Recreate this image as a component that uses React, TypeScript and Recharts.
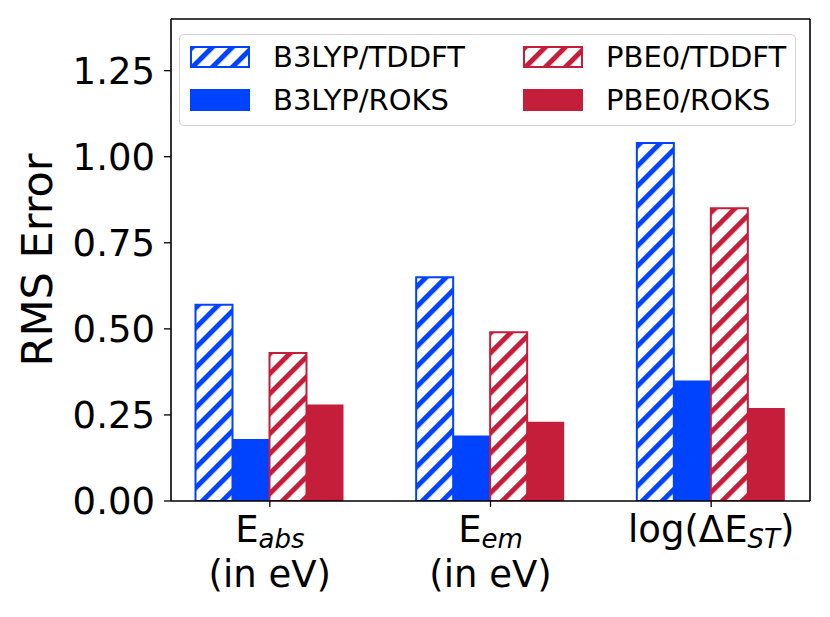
import { BarChart, Bar, XAxis, YAxis, Legend, Label } from "recharts";

const categories = ["abs", "em", "st"];
const tickMain = ["E", "E", "log(ΔE"];
const tickSub = ["abs", "em", "ST"];
const tickTail = ["", "", ")"];
const tickSecond = ["(in eV)", "(in eV)", ""];

const b3lypTddft = [0.57, 0.65, 1.04];
const b3lypRoks = [0.18, 0.19, 0.35];
const pbe0Tddft = [0.43, 0.49, 0.85];
const pbe0Roks = [0.28, 0.23, 0.27];

const yTicks = [0, 0.25, 0.5, 0.75, 1.0, 1.25];

const BLUE = "#0043ff";
const RED = "#c41e3a";
const FONT = "'DejaVu Sans', sans-serif";

const series = [
  { key: "b3lypTddft", name: "B3LYP/TDDFT", color: BLUE, hatch: true },
  { key: "b3lypRoks", name: "B3LYP/ROKS", color: BLUE, hatch: false },
  { key: "pbe0Tddft", name: "PBE0/TDDFT", color: RED, hatch: true },
  { key: "pbe0Roks", name: "PBE0/ROKS", color: RED, hatch: false },
];

const data = categories.map((c, i) => ({
  key: c,
  b3lypTddft: b3lypTddft[i],
  b3lypRoks: b3lypRoks[i],
  pbe0Tddft: pbe0Tddft[i],
  pbe0Roks: pbe0Roks[i],
}));

function HatchPattern({ id, color }: { id: string; color: string }) {
  return (
    <pattern id={id} patternUnits="userSpaceOnUse" width="14.14" height="14.14" patternTransform="rotate(45)">
      <rect width="14.14" height="14.14" fill="#fff" />
      <line x1="2.5" y1="0" x2="2.5" y2="14.14" stroke={color} strokeWidth="5" />
    </pattern>
  );
}

function XTick(props: any) {
  const { x, y, index } = props;
  return (
    <g fontFamily={FONT} fill="#000">
      <text x={x} y={y + 33} textAnchor="middle" fontSize={37}>
        <tspan>{tickMain[index]}</tspan>
        <tspan fontSize={26} fontStyle="italic" dy={6}>
          {tickSub[index]}
        </tspan>
        {tickTail[index] ? <tspan dy={-6}>{tickTail[index]}</tspan> : null}
      </text>
      {tickSecond[index] ? (
        <text x={x} y={y + 78} textAnchor="middle" fontSize={37}>
          {tickSecond[index]}
        </text>
      ) : null}
    </g>
  );
}

function LegendBox() {
  const cols = [
    [series[0], series[1]],
    [series[2], series[3]],
  ];
  return (
    <div
      style={{
        position: "relative",
        width: 617,
        height: 92,
        boxSizing: "border-box",
        border: "1.5px solid #d3d3d3",
        borderRadius: 5,
        background: "rgba(255,255,255,0.8)",
        fontFamily: FONT,
      }}
    >
      {cols.map((col, ci) =>
        col.map((s, ri) => (
          <div
            key={s.key}
            style={{
              position: "absolute",
              left: 10 + ci * 333,
              top: 11 + ri * 42.5,
              height: 22,
              display: "flex",
              alignItems: "center",
            }}
          >
            <svg width={60} height={22} style={{ display: "block" }}>
              {s.hatch ? (
                <defs>
                  <HatchPattern id={`lg-${s.key}`} color={s.color} />
                </defs>
              ) : null}
              <rect
                x={1}
                y={1}
                width={58}
                height={20}
                fill={s.hatch ? `url(#lg-${s.key})` : s.color}
                stroke={s.color}
                strokeWidth={2}
              />
            </svg>
            <span style={{ marginLeft: 23, fontSize: 29, lineHeight: "22px", color: "#000", whiteSpace: "nowrap" }}>
              {s.name}
            </span>
          </div>
        ))
      )}
    </div>
  );
}

export default function App() {
  return (
    <div style={{ position: "absolute", left: 0, top: 0, width: 830, height: 617, background: "#fff" }}>
      <BarChart
        width={830}
        height={617}
        data={data}
        margin={{ top: 18, right: 19, bottom: 0, left: 0 }}
        barGap={0}
        barSize={37}
      >
        <defs>
          <HatchPattern id="hatchBlue" color={BLUE} />
          <HatchPattern id="hatchRed" color={RED} />
        </defs>
        <XAxis
          dataKey="key"
          height={116}
          interval={0}
          padding={{ left: -11.5, right: -11.5 }}
          axisLine={{ stroke: "#000", strokeWidth: 1.6 }}
          tickLine={{ stroke: "#000", strokeWidth: 1.3 }}
          tickSize={6}
          tickMargin={2}
          tick={<XTick />}
        />
        <XAxis
          xAxisId="top"
          dataKey="key"
          orientation="top"
          height={1}
          tick={false}
          tickLine={false}
          axisLine={{ stroke: "#000", strokeWidth: 1.6 }}
        />
        <YAxis
          width={171}
          domain={[0, 1.4]}
          ticks={yTicks}
          allowDataOverflow
          tickFormatter={(v: number) => v.toFixed(2)}
          tick={{ fill: "#000", fontSize: 37, fontFamily: FONT }}
          axisLine={{ stroke: "#000", strokeWidth: 1.6 }}
          tickLine={{ stroke: "#000", strokeWidth: 1.3 }}
          tickSize={7}
          tickMargin={9}
        >
          <Label
            content={(p: any) => {
              const vb = p.viewBox;
              const cx = vb.x + 37;
              const cy = vb.y + vb.height / 2;
              return (
                <text
                  x={cx}
                  y={cy}
                  transform={`rotate(-90 ${cx} ${cy})`}
                  textAnchor="middle"
                  dominantBaseline="central"
                  fontSize={43}
                  fontFamily={FONT}
                  fill="#000"
                >
                  RMS Error
                </text>
              );
            }}
          />
        </YAxis>
        <YAxis
          yAxisId="right"
          orientation="right"
          width={1}
          domain={[0, 1.4]}
          tick={false}
          tickLine={false}
          axisLine={{ stroke: "#000", strokeWidth: 1.6 }}
        />
        <Legend
          layout="vertical"
          align="center"
          verticalAlign="middle"
          wrapperStyle={{ left: 179, top: 34, width: 617, height: 92 }}
          content={() => <LegendBox />}
        />
        {series.map((s) => (
          <Bar
            key={s.key}
            dataKey={s.key}
            name={s.name}
            fill={s.hatch ? (s.color === BLUE ? "url(#hatchBlue)" : "url(#hatchRed)") : s.color}
            stroke={s.hatch ? s.color : "none"}
            strokeWidth={s.hatch ? 2 : 0}
            isAnimationActive={false}
          />
        ))}
      </BarChart>
    </div>
  );
}
